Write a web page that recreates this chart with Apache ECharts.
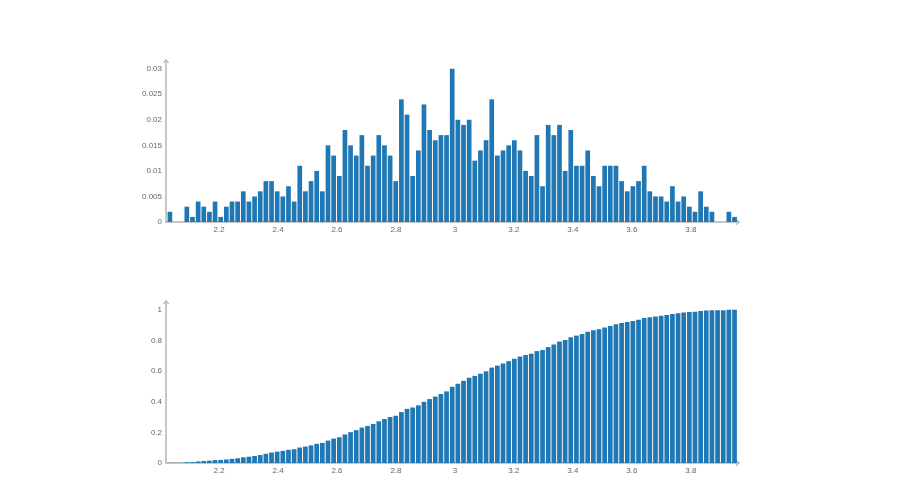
<!DOCTYPE html>
<html><head><meta charset="utf-8">
<script src="https://cdn.jsdelivr.net/npm/echarts@6/dist/echarts.min.js"></script>
<style>html,body{margin:0;padding:0;background:#fff}#c{width:912px;height:500px}</style>
</head><body><div id="c"></div>
<script>
// Histogram bins (bin centres start / width)
const binStart = 2.0332;
const binWidth = 0.01915;
const binCount = 101;

// Relative frequency per bin, in thousandths
const frequencyPerMille = [
  2,0,0,3,1,4,3,2,4,1,
  3,4,4,6,4,5,6,8,8,6,
  5,7,4,11,6,8,10,6,15,13,
  9,18,15,13,17,11,13,17,15,13,
  8,24,21,9,14,23,18,16,17,17,
  30,20,19,20,12,14,16,24,13,14,
  15,16,14,10,9,17,7,19,17,19,
  10,18,11,11,14,9,7,11,11,11,
  8,6,7,8,11,6,5,5,4,7,
  4,5,3,2,6,3,2,0,0,2,
  1
];

// Cumulative frequency per bin, in thousandths
const cumulativePerMille = [
  2,2,2,5,6,10,13,15,19,20,
  23,27,31,37,41,46,52,60,68,74,
  79,86,90,101,107,115,125,131,146,159,
  168,186,201,214,231,242,255,272,287,300,
  308,332,353,362,376,399,417,433,450,467,
  497,517,536,556,568,582,598,622,635,649,
  664,680,694,704,713,730,737,756,773,792,
  802,820,831,842,856,865,872,883,894,905,
  913,919,926,934,945,951,956,961,965,972,
  976,981,984,986,992,995,997,997,997,999,
  1000
];

const xMin = 2.02, xMax = 3.96;
const yMaxTop = 0.0315, yMaxBottom = 1.05;

const centers = [];
for (let i = 0; i < binCount; i++) centers.push(binStart + i * binWidth);

const chevronPath = 'path://M0,6 L5,0 L10,6 L7.8,6 L5,2.6 L2.2,6 Z';
const axisLineStyle = {color: '#b5b5b5', width: 1.5};
const labelStyle = {fontSize: 8, color: '#666', fontFamily: 'Liberation Sans'};

function xAxis(gi) {
  return {
    type: 'value', gridIndex: gi, min: xMin, max: xMax,
    splitNumber: 10, minInterval: 0.2, maxInterval: 0.2,
    axisLine: {show: true, onZero: false, symbol: ['none', chevronPath], symbolSize: [7, 5], lineStyle: axisLineStyle},
    axisTick: {show: false}, splitLine: {show: false},
    axisLabel: Object.assign({margin: 4, showMinLabel: false, showMaxLabel: false}, labelStyle)
  };
}
function yAxis(gi, max) {
  return {
    type: 'value', gridIndex: gi, min: 0, max: max,
    axisLine: {show: true, onZero: false, symbol: ['none', chevronPath], symbolSize: [7, 5], lineStyle: axisLineStyle},
    axisTick: {show: false}, splitLine: {show: false},
    axisLabel: Object.assign({margin: 4, showMaxLabel: false}, labelStyle)
  };
}

const chart = echarts.init(document.getElementById('c'), null, {renderer: 'canvas'});
chart.setOption({
  animation: false,
  backgroundColor: '#fff',
  grid: [
    {left: 166, width: 572, top: 61, height: 161},
    {left: 166, width: 572, top: 302, height: 161}
  ],
  xAxis: [xAxis(0), xAxis(1)],
  yAxis: [yAxis(0, yMaxTop), yAxis(1, yMaxBottom)],
  series: [
    {type: 'bar', xAxisIndex: 0, yAxisIndex: 0, barWidth: 4.7,
     itemStyle: {color: '#1f77b4'},
     data: centers.map((x, i) => [x, frequencyPerMille[i] / 1000])},
    {type: 'bar', xAxisIndex: 1, yAxisIndex: 1, barWidth: 4.7,
     itemStyle: {color: '#1f77b4'},
     data: centers.map((x, i) => [x, cumulativePerMille[i] / 1000])}
  ]
});
</script>
</body></html>
